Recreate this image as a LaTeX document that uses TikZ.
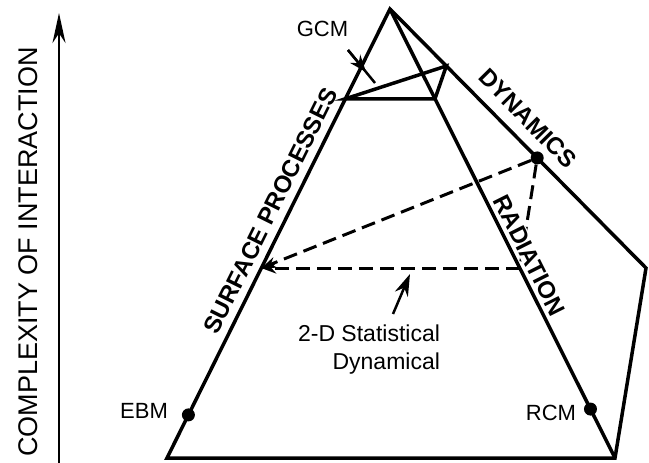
\documentclass[tikz,border=0pt]{standalone}
\usepackage{fontspec}
\setmainfont{Liberation Sans}
\usetikzlibrary{arrows.meta,calc,positioning}

\tikzset{
  rim/.style={line width=3.5pt},
  slice/.style={line width=3pt, dash pattern=on 14pt off 7pt},
  pointer/.style={line width=2.5pt},
  modeldot/.style={circle, fill=black, inner sep=0pt, minimum size=13pt},
  modeltag/.style={font=\fontsize{22}{26}\selectfont},
  facetag/.style={font=\fontsize{24}{28}\selectfont\bfseries, sloped, inner sep=0pt},
}

\begin{document}
\begin{tikzpicture}[x=1pt,y=-1pt]
  \useasboundingbox (0,0) rectangle (649,463);

  % corners of the pyramid
  \coordinate (top)  at (390,9);
  \coordinate (bl)   at (167,458);
  \coordinate (br)   at (615,458);
  \coordinate (back) at (646,268);

  \coordinate (gl) at ($(top)!0.2!(bl)$);
  \coordinate (gr) at ($(top)!0.2!(br)$);
  \coordinate (gb) at ($(top)!0.22!(back)$);
  \coordinate (sl) at ($(top)!0.577!(bl)$);
  \coordinate (sr) at ($(top)!0.577!(br)$);

  \node[modeldot] (ebm) at ($(top)!0.904!(bl)$) {};
  \node[modeldot] (rcm) at ($(top)!0.891!(br)$) {};
  \node[modeldot] (sdm) at ($(top)!0.575!(back)$) {};

  % statistical dynamical slice
  \draw[slice, -{Stealth[length=15pt,width=11pt]}] (sdm) -- (sl);
  \draw[slice, -{Stealth[length=15pt,width=11pt]}] (sr) -- (sl);
  \draw[slice] (sdm) -- (sr);

  \draw[rim] (bl) -- node[facetag, pos=0.534, above=7pt] (surf) {SURFACE PROCESSES} (top)
    -- node[facetag, pos=0.48, above=11pt] (dyn) {DYNAMICS} (back) -- (br) -- cycle;
  \draw[rim] (top) -- node[facetag, pos=0.563, above=3pt, fill=white, inner sep=1pt] (rad) {RADIATION} (br);
  \draw[rim] (gl) -- (gr) -- (gb) -- cycle;

  \node[modeltag] (ebmtag) at (144,410.5) {EBM};
  \node[modeltag] (rcmtag) at (551,412.5) {RCM};
  \node[modeltag] (gcmtag) at (322.5,28.5) {GCM};
  \node[modeltag, align=right, font=\fontsize{23}{28}\selectfont] (sdtag) at (369,350) {2-D Statistical\\Dynamical};

  \coordinate (gcmtail) at (348,50);
  \coordinate (gcmhit)  at (366,72);
  \coordinate (gcmend)  at (375,83);
  \draw[pointer] (gcmtail) -- (gcmend);
  \draw[pointer, -{Stealth[length=17pt,width=13pt]}] (gcmtail) -- (gcmhit);

  \coordinate (sdtail) at (393,314);
  \coordinate (sdtip)  at (410,274);
  \draw[pointer, -{Stealth[length=22pt,width=14pt]}] (sdtail) -- (sdtip);

  % axis
  \node[rotate=90, font=\fontsize{27}{32}\selectfont] (axis) at (28,252) {COMPLEXITY OF INTERACTION};
  \coordinate (axisfoot) at (59,463);
  \coordinate (axishead) at (59,13);
  \draw[pointer, -{Stealth[length=30pt,width=13pt]}] (axisfoot) -- (axishead);
\end{tikzpicture}
\end{document}
